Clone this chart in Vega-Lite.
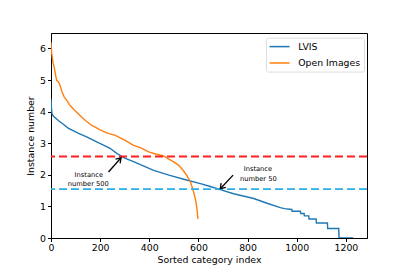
{
  "$schema": "https://vega.github.io/schema/vega-lite/v6.json",
  "width": 316,
  "height": 205,
  "autosize": {"type": "none"},
  "padding": {"left": 51, "top": 33, "right": 42, "bottom": 35},
  "background": "white",
  "config": {
    "font": "DejaVu Sans",
    "view": {"stroke": "black", "strokeWidth": 1},
    "axis": {
      "grid": false,
      "domainColor": "black",
      "tickColor": "black",
      "tickSize": 3.5,
      "labelColor": "black",
      "titleColor": "black",
      "labelFont": "DejaVu Sans",
      "titleFont": "DejaVu Sans",
      "labelFontSize": 9.4,
      "titleFontSize": 9.4,
      "titleFontWeight": "normal",
      "labelPadding": 2,
      "titlePadding": 4,
      "labelFlush": false,
      "labelOverlap": false
    }
  },
  "datasets": {
    "curves": [
      {"series": "LVIS", "idx": 0, "logcount": 4.41},
      {"series": "LVIS", "idx": 2, "logcount": 4.1},
      {"series": "LVIS", "idx": 4, "logcount": 3.94},
      {"series": "LVIS", "idx": 10, "logcount": 3.85},
      {"series": "LVIS", "idx": 30, "logcount": 3.72},
      {"series": "LVIS", "idx": 50, "logcount": 3.6},
      {"series": "LVIS", "idx": 70, "logcount": 3.48},
      {"series": "LVIS", "idx": 110, "logcount": 3.32},
      {"series": "LVIS", "idx": 145, "logcount": 3.2},
      {"series": "LVIS", "idx": 186, "logcount": 3.04},
      {"series": "LVIS", "idx": 201, "logcount": 2.99},
      {"series": "LVIS", "idx": 240, "logcount": 2.84},
      {"series": "LVIS", "idx": 269, "logcount": 2.67},
      {"series": "LVIS", "idx": 300, "logcount": 2.53},
      {"series": "LVIS", "idx": 336, "logcount": 2.42},
      {"series": "LVIS", "idx": 380, "logcount": 2.27},
      {"series": "LVIS", "idx": 418, "logcount": 2.14},
      {"series": "LVIS", "idx": 480, "logcount": 1.99},
      {"series": "LVIS", "idx": 540, "logcount": 1.86},
      {"series": "LVIS", "idx": 608, "logcount": 1.72},
      {"series": "LVIS", "idx": 648, "logcount": 1.63},
      {"series": "LVIS", "idx": 689, "logcount": 1.53},
      {"series": "LVIS", "idx": 743, "logcount": 1.4},
      {"series": "LVIS", "idx": 825, "logcount": 1.25},
      {"series": "LVIS", "idx": 879, "logcount": 1.1},
      {"series": "LVIS", "idx": 933, "logcount": 0.96},
      {"series": "LVIS", "idx": 950, "logcount": 0.93},
      {"series": "LVIS", "idx": 980, "logcount": 0.903},
      {"series": "LVIS", "idx": 981, "logcount": 0.845},
      {"series": "LVIS", "idx": 1015, "logcount": 0.845},
      {"series": "LVIS", "idx": 1016, "logcount": 0.778},
      {"series": "LVIS", "idx": 1030, "logcount": 0.778},
      {"series": "LVIS", "idx": 1031, "logcount": 0.699},
      {"series": "LVIS", "idx": 1049, "logcount": 0.699},
      {"series": "LVIS", "idx": 1050, "logcount": 0.602},
      {"series": "LVIS", "idx": 1079, "logcount": 0.602},
      {"series": "LVIS", "idx": 1080, "logcount": 0.477},
      {"series": "LVIS", "idx": 1125, "logcount": 0.477},
      {"series": "LVIS", "idx": 1126, "logcount": 0.301},
      {"series": "LVIS", "idx": 1171, "logcount": 0.301},
      {"series": "LVIS", "idx": 1172, "logcount": 0},
      {"series": "LVIS", "idx": 1230, "logcount": 0},
      {"series": "Open Images", "idx": 0, "logcount": 6.2},
      {"series": "Open Images", "idx": 1, "logcount": 6.05},
      {"series": "Open Images", "idx": 3, "logcount": 5.85},
      {"series": "Open Images", "idx": 8, "logcount": 5.55},
      {"series": "Open Images", "idx": 12, "logcount": 5.45},
      {"series": "Open Images", "idx": 20, "logcount": 5.1},
      {"series": "Open Images", "idx": 23, "logcount": 4.99},
      {"series": "Open Images", "idx": 30, "logcount": 4.95},
      {"series": "Open Images", "idx": 37, "logcount": 4.83},
      {"series": "Open Images", "idx": 45, "logcount": 4.62},
      {"series": "Open Images", "idx": 54, "logcount": 4.46},
      {"series": "Open Images", "idx": 65, "logcount": 4.35},
      {"series": "Open Images", "idx": 77, "logcount": 4.2},
      {"series": "Open Images", "idx": 95, "logcount": 4.05},
      {"series": "Open Images", "idx": 118, "logcount": 3.88},
      {"series": "Open Images", "idx": 140, "logcount": 3.72},
      {"series": "Open Images", "idx": 165, "logcount": 3.57},
      {"series": "Open Images", "idx": 200, "logcount": 3.42},
      {"series": "Open Images", "idx": 226, "logcount": 3.33},
      {"series": "Open Images", "idx": 262, "logcount": 3.25},
      {"series": "Open Images", "idx": 300, "logcount": 3.1},
      {"series": "Open Images", "idx": 336, "logcount": 2.93},
      {"series": "Open Images", "idx": 363, "logcount": 2.86},
      {"series": "Open Images", "idx": 400, "logcount": 2.72},
      {"series": "Open Images", "idx": 430, "logcount": 2.65},
      {"series": "Open Images", "idx": 458, "logcount": 2.6},
      {"series": "Open Images", "idx": 480, "logcount": 2.5},
      {"series": "Open Images", "idx": 499, "logcount": 2.41},
      {"series": "Open Images", "idx": 520, "logcount": 2.3},
      {"series": "Open Images", "idx": 540, "logcount": 2.12},
      {"series": "Open Images", "idx": 555, "logcount": 1.95},
      {"series": "Open Images", "idx": 567, "logcount": 1.78},
      {"series": "Open Images", "idx": 575, "logcount": 1.6},
      {"series": "Open Images", "idx": 580, "logcount": 1.46},
      {"series": "Open Images", "idx": 587, "logcount": 1.25},
      {"series": "Open Images", "idx": 591, "logcount": 1.09},
      {"series": "Open Images", "idx": 595, "logcount": 0.85},
      {"series": "Open Images", "idx": 598, "logcount": 0.6}
    ]
  },
  "layer": [
    {
      "data": {"name": "curves"},
      "mark": {"type": "line", "strokeWidth": 1.4, "clip": true},
      "encoding": {
        "x": {
          "field": "idx", "type": "quantitative",
          "scale": {"domain": [0, 1286], "nice": false, "zero": false},
          "axis": {"values": [0, 200, 400, 600, 800, 1000, 1200], "title": "Sorted category index", "format": "d", "labelOverlap": false, "labelFlush": false}
        },
        "y": {
          "field": "logcount", "type": "quantitative",
          "scale": {"domain": [0, 6.49], "nice": false},
          "axis": {"values": [0, 1, 2, 3, 4, 5, 6], "title": "Instance number", "format": "d", "labelOverlap": false, "labelFlush": false, "tickCount": 7}
        },
        "color": {
          "field": "series", "type": "nominal",
          "scale": {"domain": ["LVIS", "Open Images"], "range": ["#1f77b4", "#ff7f0e"]},
          "legend": {
            "title": null,
            "orient": "none",
            "legendX": 215,
            "legendY": 4.6,
            "padding": 3,
            "fillColor": "white",
            "strokeColor": "#dddddd",
            "cornerRadius": 2,
            "symbolType": "M -2 0 L 2 0",
            "symbolSize": 100,
            "symbolStrokeWidth": 1.5,
            "symbolOffset": 4.6,
            "labelFontSize": 9.3,
            "labelColor": "black",
            "labelFont": "DejaVu Sans",
            "rowPadding": 4.4,
            "labelOffset": 12.7
          }
        }
      }
    },
    {
      "data": {"values": [{"level": 2.58}]},
      "mark": {"type": "rule", "color": "#ff2020", "strokeWidth": 1.8, "strokeDash": [8, 4]},
      "encoding": {"y": {"field": "level", "type": "quantitative"}}
    },
    {
      "data": {"values": [{"level": 1.55}]},
      "mark": {"type": "rule", "color": "#2aaee6", "strokeWidth": 1.8, "strokeDash": [8, 4]},
      "encoding": {"y": {"field": "level", "type": "quantitative"}}
    },
    {
      "data": {"values": [
        {"tx": 154, "ty": 1.98, "label": "Instance"},
        {"tx": 152, "ty": 1.72, "label": "number 500"},
        {"tx": 842, "ty": 2.17, "label": "Instance"},
        {"tx": 844, "ty": 1.88, "label": "number 50"}
      ]},
      "mark": {"type": "text", "fontSize": 6.7, "color": "black", "align": "center", "baseline": "middle", "font": "DejaVu Sans"},
      "encoding": {
        "x": {"field": "tx", "type": "quantitative"},
        "y": {"field": "ty", "type": "quantitative"},
        "text": {"field": "label"}
      }
    },
    {
      "data": {"values": [
        {"x0": 234, "y0": 2.09, "x1": 285, "y1": 2.54},
        {"x0": 741, "y0": 1.99, "x1": 689, "y1": 1.56}
      ]},
      "mark": {"type": "rule", "color": "black", "strokeWidth": 1.3},
      "encoding": {
        "x": {"field": "x0", "type": "quantitative"},
        "y": {"field": "y0", "type": "quantitative"},
        "x2": {"field": "x1"},
        "y2": {"field": "y1"}
      }
    },
    {
      "data": {"values": [{"x1": 285, "y1": 2.54}]},
      "mark": {"type": "point", "shape": "M -0.6 0.9 L 0 0 L 0.6 0.9", "filled": false, "stroke": "black", "strokeWidth": 1.3, "size": 110, "angle": 43, "opacity": 1},
      "encoding": {
        "x": {"field": "x1", "type": "quantitative"},
        "y": {"field": "y1", "type": "quantitative"}
      }
    },
    {
      "data": {"values": [{"x1": 689, "y1": 1.56}]},
      "mark": {"type": "point", "shape": "M -0.6 0.9 L 0 0 L 0.6 0.9", "filled": false, "stroke": "black", "strokeWidth": 1.3, "size": 110, "angle": 222, "opacity": 1},
      "encoding": {
        "x": {"field": "x1", "type": "quantitative"},
        "y": {"field": "y1", "type": "quantitative"}
      }
    }
  ]
}
